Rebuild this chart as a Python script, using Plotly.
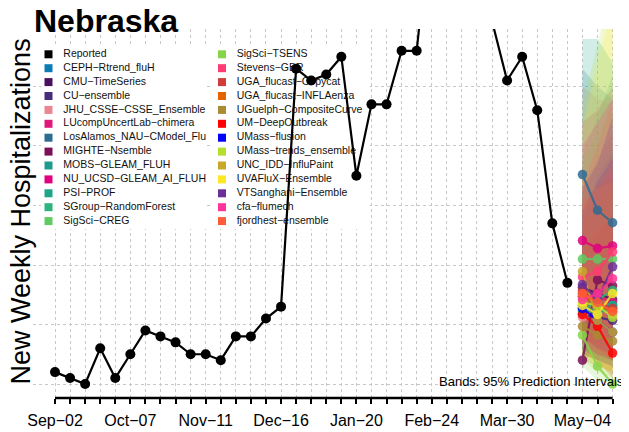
import pandas as pd
import plotly.graph_objects as go

# ---- data ----
first_week = pd.Timestamp("2023-09-02")
reported_dates = pd.date_range(first_week, periods=35, freq="7D")
reported = [2, 1, 0, 6, 1, 5, 9, 8, 7, 5, 5, 4, 8, 8, 11, 13,
            53, 51, 52, 55, 35, 47, 47, 56, 56, 80, 88, 84, 74, 61,
            51, 55, 46, 27, 17]

forecast_dates = pd.date_range("2024-05-04", periods=3, freq="7D")

models = ["CEPH-Rtrend_fluH", "CMU-TimeSeries", "CU-ensemble", "JHU_CSSE-CSSE_Ensemble",
          "LUcompUncertLab-chimera", "LosAlamos_NAU-CModel_Flu", "MIGHTE-Nsemble",
          "MOBS-GLEAM_FLUH", "NU_UCSD-GLEAM_AI_FLUH", "PSI-PROF", "SGroup-RandomForest",
          "SigSci-CREG", "SigSci-TSENS", "Stevens-GBR", "UGA_flucast-Copycat",
          "UGA_flucast-INFLAenza", "UGuelph-CompositeCurve", "UM-DeepOutbreak",
          "UMass-flusion", "UMass-trends_ensemble", "UNC_IDD-InfluPaint",
          "UVAFluX-Ensemble", "VTSanghani-Ensemble", "cfa-flumech", "fjordhest-ensemble"]

model_colors = ["#0a7bb5", "#4a1060", "#472c7a", "#e8878f", "#e0187c", "#2e6b92", "#7b0f58",
                "#209a8c", "#e2007e", "#20a486", "#2db37c", "#5fcb60", "#86d549", "#ff3a74",
                "#d03c3c", "#e66100", "#a98b32", "#ff0000", "#0000ff", "#b4df2c", "#c8a828",
                "#fde725", "#6b2f98", "#ff3399", "#ff5c37"]

median = [[14.7, 13.2, 12.7], [16.2, 15.2, 14.2], [11.7, 11.2, 10.7], [11.2, 12.7, 11.7],
          [15.2, 14.7, 13.7], [35.2, 29.2, 27.1], [4.0, 17.5, 16.5], [13.2, 12.2, 13.2],
          [24.1, 22.8, 23.2], [12.7, 11.7, 13.2], [12.2, 14.2, 15.7], [21.0, 21.0, 21.0],
          [8.2, 3.0, 0.0], [18.0, 18.9, 22.2], [15.7, 13.7, 12.7], [14.7, 13.2, 12.2],
          [9.7, 8.2, 7.2], [11.7, 9.7, 5.2], [12.7, 10.7, 8.7], [13.7, 13.2, 11.2],
          [18.9, 10.7, 8.7], [13.2, 11.7, 15.2], [16.7, 14.2, 19.7], [14.2, 15.2, 17.7],
          [15.2, 13.7, 12.2]]

upper = [[28, 33, 37], [29, 34, 38], [22, 25, 29], [50, 48, 47], [33, 38, 42], [53, 50, 48],
         [25, 35, 39], [32, 37, 40], [44, 46, 50], [58, 58, 54], [38, 45, 52], [37, 42, 46],
         [23, 20, 18], [34, 40, 48], [31, 33, 35], [27, 30, 33], [24, 27, 30], [23, 26, 28],
         [29, 34, 38], [47, 57, 68], [35, 33, 34], [43, 54, 64], [33, 37, 45], [40, 44, 48],
         [30, 33, 37]]

lower = [[7, 5, 4], [9, 7, 5], [6, 5, 4], [5, 4, 3], [8, 6, 4], [18, 13, 10], [2.4, 8, 6],
         [6, 5, 4], [13, 10, 9], [5, 4, 3], [5, 4, 4], [10, 8, 7], [3, 0.5, 0], [9, 7, 6],
         [8, 6, 4], [7, 5, 4], [4, 3, 2], [5, 4, 1], [6, 4, 3], [4, 2, 1], [8, 3, 2],
         [5, 3, 2], [8, 6, 5], [7, 5, 4], [8, 6, 4]]

tick_dates = pd.date_range(first_week, "2024-05-18", freq="7D")
tick_labels = [d.strftime("%b-%d").replace("-", "\u2212") if i % 5 == 0 else ""
               for i, d in enumerate(tick_dates)]

FONT = "Liberation Sans, Arial, sans-serif"

# window is 629x432 but the page body has an 8px margin, so the figure is shifted
OFF = 8
WIN_W, WIN_H = 629, 432
W, H = WIN_W - OFF, WIN_H - OFF
# plot area in window pixels
L, R, T, B = 33, 629, 29, 398


def rgba(h, a):
    h = h.lstrip("#")
    return "rgba(%d,%d,%d,%s)" % (int(h[0:2], 16), int(h[2:4], 16), int(h[4:6], 16), a)


def px_x(px):
    return (px - L) / (R - L)


def px_y(py):
    return (B - py) / (B - T)


fig = go.Figure()

# ---- legend (drawn on a pixel canvas under the data) ----
legend_names = ["Reported"] + models
legend_colors = ["#000000"] + model_colors
rows = 13
leg_x, leg_y, leg_tx = [], [], []
for i, name in enumerate(legend_names):
    col, row = divmod(i, rows)
    leg_x.append(48.5 if col == 0 else 222)
    leg_tx.append(63.3 if col == 0 else 236.7)
    leg_y.append(54.3 + 13.9 * row)

fig.add_trace(go.Scatter(x=leg_x, y=leg_y, mode="markers", hoverinfo="skip", showlegend=False,
                         marker=dict(symbol="square", size=8, color=legend_colors,
                                     line=dict(width=0))))
fig.add_trace(go.Scatter(x=leg_tx, y=leg_y, mode="text", hoverinfo="skip", showlegend=False,
                         text=[n.replace("-", "\u2212") for n in legend_names],
                         textposition="middle right",
                         textfont=dict(family=FONT, size=10.5, color="#111111")))

# ---- prediction bands ----
for name, c, lo, hi in zip(models, model_colors, lower, upper):
    fig.add_trace(go.Scatter(
        x=list(forecast_dates) + list(forecast_dates[::-1]),
        y=hi + lo[::-1], fill="toself", fillcolor=rgba(c, 0.2),
        line=dict(width=0), mode="lines", hoverinfo="skip", showlegend=False,
        xaxis="x2", yaxis="y2"))

# ---- reported ----
fig.add_trace(go.Scatter(x=reported_dates, y=reported, mode="lines+markers", name="Reported",
                         line=dict(color="black", width=2.2),
                         marker=dict(color="black", size=10),
                         showlegend=False, xaxis="x2", yaxis="y2"))

# ---- model medians ----
for name, c, m in zip(models, model_colors, median):
    fig.add_trace(go.Scatter(x=forecast_dates, y=m, mode="lines+markers", name=name,
                             line=dict(color=c, width=2.2), marker=dict(color=c, size=9.5),
                             opacity=0.85, showlegend=False, xaxis="x2", yaxis="y2"))

week = pd.Timedelta(days=7)
px_per_week = 15.07
x_left = first_week + week * ((L - 55) / px_per_week)
x_right = first_week + week * ((R - 55) / px_per_week)

fig.update_layout(
    width=W, height=H,
    margin=dict(l=L - OFF, r=WIN_W - R, t=T - OFF, b=WIN_H - B, autoexpand=False),
    paper_bgcolor="white", plot_bgcolor="white",
    font=dict(family=FONT, color="black"),
    showlegend=False,
    xaxis=dict(range=[L, R], visible=False, fixedrange=True),
    yaxis=dict(range=[B, T], visible=False, fixedrange=True),
    xaxis2=dict(overlaying="x", anchor="y2", type="date", range=[x_left, x_right],
                tickmode="array", tickvals=tick_dates, ticktext=tick_labels, tickangle=0,
                ticks="outside", ticklen=5, tickwidth=2, tickcolor="black",
                tickfont=dict(size=16, color="black"), ticklabelstandoff=3,
                showgrid=True, gridcolor="#c8c8c8", gridwidth=1, griddash="dot",
                showline=False, zeroline=False),
    yaxis2=dict(overlaying="y", anchor="x2", range=[-2.35, 59.66], tick0=0, dtick=10,
                showgrid=True, gridcolor="#c8c8c8", gridwidth=1, griddash="dot",
                showticklabels=False, ticks="", showline=False, zeroline=False),
    title=dict(text="Nebraska", font=dict(size=32, weight="bold", color="black"),
               xref="container", x=(34 - OFF) / W, xanchor="left",
               yref="container", y=1 - (9.5 - OFF) / H, yanchor="top"),
)

# legend backgrounds (above gridlines, below traces)
for x0, x1 in [(41, 207), (213, 370)]:
    fig.add_shape(type="rect", xref="x", yref="y", x0=x0, x1=x1, y0=47, y1=229,
                  fillcolor="white", line=dict(width=0), layer="between")

# axis line spanning first to last tick
fig.add_shape(type="line", xref="x2", yref="paper", x0=tick_dates[0], x1=tick_dates[-1],
              y0=0, y1=0, line=dict(color="black", width=2.5), layer="above")

fig.add_annotation(text="New Weekly Hospitalizations", textangle=-90, showarrow=False,
                   xref="paper", yref="paper", x=px_x(20.5), y=px_y(212),
                   xanchor="center", yanchor="middle", font=dict(size=27, color="black"))
fig.add_annotation(text="Bands: 95% Prediction Intervals", showarrow=False,
                   xref="paper", yref="paper", x=px_x(626), y=px_y(381.7),
                   xanchor="right", yanchor="middle", font=dict(size=13, color="black"))

fig.write_html("out.html")
